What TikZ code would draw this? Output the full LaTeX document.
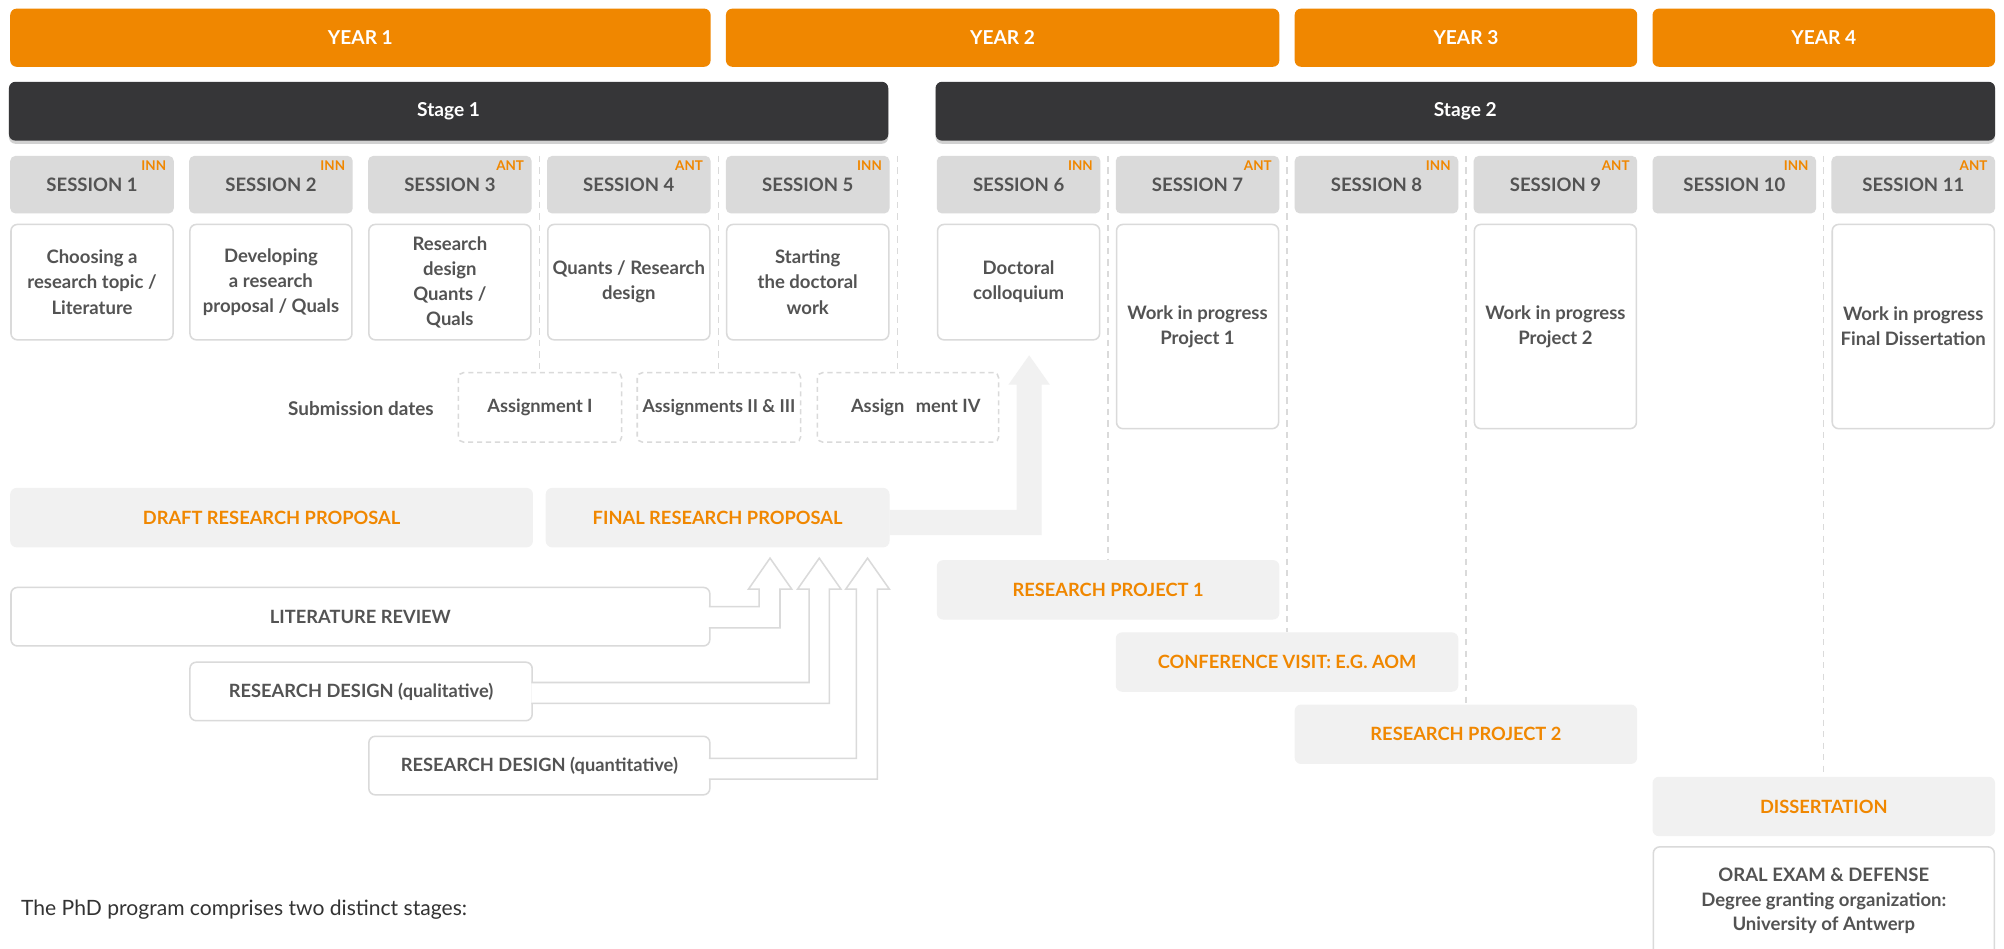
\documentclass[tikz,border=0pt]{standalone}
\usepackage{fontspec}
\setmainfont{Lato}
\usetikzlibrary{positioning, calc, shadows}

\definecolor{yearorange}{HTML}{F08700}
\definecolor{stagedark}{HTML}{363638}
\definecolor{sessiongray}{HTML}{DADADA}
\definecolor{textgray}{HTML}{535353}
\definecolor{panelgray}{HTML}{F1F1F1}
\definecolor{linegray}{HTML}{DADADA}

\begin{document}
\begin{tikzpicture}[
      x=1pt, y=-1pt,
      every node/.style={inner sep=0pt, outer sep=0pt, align=center},
      year/.style={fill=yearorange, rounded corners=5pt, minimum height=45.5pt, text=white, font=\bfseries\fontsize{15}{18}\selectfont},
      stage/.style={fill=stagedark, rounded corners=5pt, minimum height=46pt, text=white, font=\bfseries\fontsize{15}{18}\selectfont,
        drop shadow={shadow xshift=0pt, shadow yshift=-2.5pt, opacity=0.18, fill=black}},
      session/.style={fill=sessiongray, rounded corners=4pt, minimum width=128pt, minimum height=45pt, text=textgray, font=\bfseries\fontsize{14.5}{17}\selectfont},
      tag/.style={text=yearorange, font=\bfseries\fontsize{10.5}{12}\selectfont},
      topic/.style={draw=linegray, fill=white, line width=1.2pt, rounded corners=5pt, minimum width=126.8pt, minimum height=90.3pt, text=textgray, font=\bfseries\fontsize{14.5}{19.6}\selectfont},
      assign/.style={draw=linegray, dash pattern=on 4pt off 3pt, line width=1.2pt, rounded corners=4pt, minimum height=54.3pt, text=textgray, font=\bfseries\fontsize{14.3}{17}\selectfont},
      phase/.style={fill=panelgray, rounded corners=5pt, minimum height=46.5pt, text=yearorange, font=\bfseries\fontsize{14.3}{17}\selectfont},
      course/.style={draw=linegray, fill=white, line width=1.2pt, rounded corners=5pt, minimum height=45.8pt, text=textgray, font=\bfseries\fontsize{14.3}{17}\selectfont},
      guide/.style={draw=linegray, line width=1pt, dash pattern=on 5pt off 4pt},
      hollow/.style={draw=linegray, fill=white, line width=1.2pt, line join=miter}
    ]
      \useasboundingbox[fill=white] (0,0) rectangle (1568,742.5);

      % years and stages
      \node[year, minimum width=548pt] (y1) at (282,29.5) {YEAR 1};
      \node[year, minimum width=433pt] (y2) at (784.5,29.5) {YEAR 2};
      \node[year, minimum width=268pt] (y3) at (1147,29.5) {YEAR 3};
      \node[year, minimum width=268pt] (y4) at (1427,29.5) {YEAR 4};
      \node[stage, minimum width=688pt] (st1) at (351,87) {Stage 1};
      \node[stage, minimum width=829pt] (st2) at (1146.5,87) {Stage 2};

      % session headers
      \foreach \i/\x/\tg in {1/72/INN, 2/212/INN, 3/352/ANT, 4/492/ANT, 5/632/INN, 6/797/INN,
                             7/937/ANT, 8/1077/INN, 9/1217/ANT, 10/1357/INN, 11/1497/ANT} {
        \node[session] (s\i) at (\x,144.5) {SESSION \i};
        \node[tag, anchor=north east] (t\i) at ($(s\i.north east)+(-6,4)$) {\tg};
      }

      % guide lines
      \draw[guide] ($(s3.north east)!0.5!(s4.north west)$) coordinate (g1) -- (g1 |- 0,291);
      \draw[guide] ($(s4.north east)!0.5!(s5.north west)$) coordinate (g2) -- (g2 |- 0,291);
      \draw[guide] ($(s5.north east)+(6,0)$) coordinate (g3) -- (g3 |- 0,291);

      % session contents
      \node[topic] (c1) at (72,220.75) {Choosing a\\research topic /\\Literature};
      \node[topic] (c2) at (212,220.75) {Developing\\a research\\proposal / Quals};
      \node[topic] (c3) at (352,220.75) {Research\\design\\Quants /\\Quals};
      \node[topic] (c4) at (492,220.75) {Quants / Research\\design};
      \node[topic] (c5) at (632,220.75) {Starting\\the doctoral\\work};
      \node[topic] (c6) at (797,220.75) {Doctoral\\colloquium};
      \node[topic, minimum height=159.8pt] (c7) at (937,255.5) {Work in progress\\Project 1};
      \node[topic, minimum height=159.8pt] (c9) at (1217,255.5) {Work in progress\\Project 2};
      \node[topic, minimum height=159.8pt] (c11) at (1497,255.5) {Work in progress\\Final Dissertation};

      % submissions
      \node[text=textgray, font=\bfseries\fontsize{14.8}{17}\selectfont] (subm) at (282.4,320) {Submission dates};
      \node[assign, minimum width=127.8pt] (a1) at (422.5,318.75) {Assignment I};
      \node[assign, minimum width=127.8pt, font=\bfseries\fontsize{13.9}{17}\selectfont] (a2) at (562.5,318.75) {Assignments II \& III};
      \node[assign, minimum width=141.8pt] (a3) at (710.5,318.75) {\hspace{12pt}Assign\hspace{9pt}ment IV};

      % stage 1 work
      \node[phase, minimum width=409pt] (draft) at (212.5,405) {DRAFT RESEARCH PROPOSAL};
      \node[phase, minimum width=269pt] (final) at (561.5,405) {FINAL RESEARCH PROPOSAL};
      \fill[panelgray] (final.east |- 0,399) -- (795.5,399) -- (795.5,301) -- (789,301) -- (805.25,278)
        -- (821.5,301) -- (815,301) -- (815,418.6) -- (final.east |- 0,418.6) -- cycle;

      \node[course, minimum width=546.8pt] (lit) at (282,482.5) {LITERATURE REVIEW};
      \node[course, minimum width=267.8pt] (qual) at (282.5,541) {RESEARCH DESIGN (qualitative)};
      \node[course, minimum width=266.8pt] (quant) at (422,599) {RESEARCH DESIGN (quantitative)};

      \draw[hollow] ($(lit.east |- 0,474.7)+(-0.7,0)$) -- (594,474.7) -- (594,461) -- (585.6,461) -- (602.5,436.7)
        -- (619.5,461) -- (610.3,461) -- (610.3,491.2) -- ($(lit.east |- 0,491.2)+(-0.7,0)$);
      \draw[hollow] ($(qual.east |- 0,534)+(-0.7,0)$) -- (633,534) -- (633,461) -- (624,461) -- (641,436.7)
        -- (658,461) -- (649,461) -- (649,550.3) -- ($(qual.east |- 0,550.3)+(-0.7,0)$);
      \draw[hollow] ($(quant.east |- 0,593.4)+(-0.7,0)$) -- (670,593.4) -- (670,461) -- (661.7,461) -- (678.8,436.7)
        -- (695.9,461) -- (686.5,461) -- (686.5,609.6) -- ($(quant.east |- 0,609.6)+(-0.7,0)$);

      % stage 2 work
      \node[phase, minimum width=268pt] (rp1) at (867,461.5) {RESEARCH PROJECT 1};
      \node[phase, minimum width=268pt] (conf) at (1007,518) {CONFERENCE VISIT: E.G. AOM};
      \node[phase, minimum width=268pt] (rp2) at (1147,574.5) {RESEARCH PROJECT 2};
      \node[phase, minimum width=268pt] (diss) at (1427,631) {DISSERTATION};
      \node[course, minimum width=266.8pt, minimum height=84.8pt, font=\bfseries\fontsize{14.5}{19}\selectfont] (oral) at (1427,705)
        {ORAL EXAM \& DEFENSE\\Degree granting organization:\\University of Antwerp};

      \draw[guide] ($(s6.north east)!0.5!(s7.north west)$) -- (rp1.north);
      \draw[guide] ($(s7.north east)!0.5!(s8.north west)$) -- (conf.north);
      \draw[guide] ($(s8.north east)!0.5!(s9.north west)$) -- (rp2.north);
      \draw[guide] ($(s10.north east)!0.5!(s11.north west)$) -- (diss.north);

      \node[anchor=west, text=black!80, font=\fontsize{16.5}{20}\selectfont] (intro) at (16.5,712) {The PhD program comprises two distinct stages:};
    \end{tikzpicture}
\end{document}
